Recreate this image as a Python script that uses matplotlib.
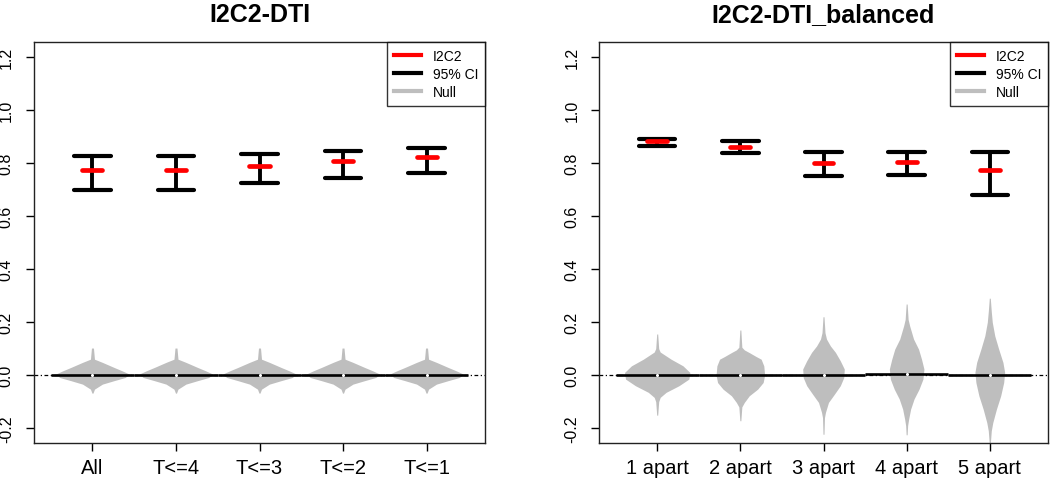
import matplotlib

matplotlib.use("Agg")
import matplotlib.pyplot as plt
from matplotlib.lines import Line2D

plt.rcParams["font.family"] = ["Liberation Sans", "DejaVu Sans"]

# left panel: all subjects / time thresholds
left_title = "I2C2-DTI"
left_labels = ["All", "T<=4", "T<=3", "T<=2", "T<=1"]
left_est = [0.774, 0.774, 0.787, 0.809, 0.821]
left_lo = [0.698, 0.698, 0.725, 0.742, 0.761]
left_hi = [0.826, 0.826, 0.834, 0.846, 0.855]
left_null_med = [0.0, 0.0, 0.0, 0.0, 0.0]

# right panel: balanced design
right_title = "I2C2-DTI_balanced"
right_labels = ["1 apart", "2 apart", "3 apart", "4 apart", "5 apart"]
right_est = [0.884, 0.861, 0.800, 0.804, 0.774]
right_lo = [0.864, 0.836, 0.749, 0.756, 0.679]
right_hi = [0.891, 0.882, 0.842, 0.842, 0.842]
right_null_med = [0.0, 0.0, 0.0, 0.005, 0.0]

# null distribution violin outlines (y, half-width in x units)
null_y_left = [0.102, 0.06, 0.048, 0.029, 0.016, 0.004, -0.009, -0.021, -0.034, -0.053, -0.068]
null_w_left = [0.012, 0.024, 0.119, 0.258, 0.357, 0.44, 0.393, 0.258, 0.119, 0.024, 0.006]

null_y_right = [
    [0.155, 0.10, 0.087, 0.06, 0.035, 0.01, -0.015, -0.04, -0.065, -0.084, -0.10, -0.151],
    [0.17, 0.105, 0.095, 0.085, 0.07, 0.06, 0.035, 0.0, -0.028, -0.053, -0.078, -0.103, -0.12, -0.172],
    [0.22, 0.16, 0.136, 0.11, 0.086, 0.054, 0.023, -0.009, -0.04, -0.072, -0.103, -0.14, -0.16, -0.223],
    [0.268, 0.21, 0.186, 0.136, 0.098, 0.06, 0.023, -0.015, -0.053, -0.09, -0.128, -0.166, -0.19, -0.225],
    [0.29, 0.24, 0.199, 0.148, 0.098, 0.048, 0.01, -0.028, -0.078, -0.128, -0.179, -0.21, -0.26],
]
null_w_right = [
    [0.006, 0.018, 0.036, 0.167, 0.31, 0.393, 0.381, 0.262, 0.107, 0.036, 0.018, 0.006],
    [0.006, 0.018, 0.048, 0.107, 0.19, 0.25, 0.282, 0.292, 0.274, 0.208, 0.107, 0.048, 0.018, 0.006],
    [0.006, 0.018, 0.036, 0.083, 0.143, 0.202, 0.25, 0.244, 0.202, 0.131, 0.06, 0.024, 0.012, 0.006],
    [0.006, 0.018, 0.036, 0.083, 0.143, 0.179, 0.208, 0.196, 0.149, 0.089, 0.048, 0.024, 0.012, 0.006],
    [0.006, 0.018, 0.03, 0.06, 0.107, 0.158, 0.179, 0.167, 0.131, 0.08, 0.036, 0.018, 0.006],
]

yticks = [-0.2, 0.0, 0.2, 0.4, 0.6, 0.8, 1.0, 1.2]
null_gray = "#bebebe"


def draw_panel(ax, title, labels, est, lo, hi, null_med, prof_y, prof_w, ylab_pad):
    xs = list(range(1, len(labels) + 1))

    # dash-dot reference line at zero
    ax.axhline(0, color="black", lw=0.9, ls=(0, (3, 2, 1, 2)), zorder=1)

    for x, py, pw, med in zip(xs, prof_y, prof_w, null_med):
        left = [x - w for w in pw]
        right = [x + w for w in pw]
        ax.fill_betweenx(py, left, right, color=null_gray, lw=0, zorder=2)
        ax.plot([x - 0.5, x + 0.5], [med, med], color="black", lw=1.9, zorder=3,
                solid_capstyle="butt")
        ax.plot([x], [med], marker="o", ms=2.2, color="white", mew=0, zorder=4)

    for x, e, l, h in zip(xs, est, lo, hi):
        ax.plot([x, x], [l, h], color="black", lw=2.8, zorder=5, solid_capstyle="butt")
        ax.plot([x - 0.22, x + 0.22], [l, l], color="black", lw=3.0, zorder=5,
                solid_capstyle="round")
        ax.plot([x - 0.22, x + 0.22], [h, h], color="black", lw=3.0, zorder=5,
                solid_capstyle="round")
        ax.plot([x - 0.12, x + 0.12], [e, e], color="red", lw=3.4, zorder=6,
                solid_capstyle="round")

    ax.set_xlim(0.3, 5.7)
    ax.set_ylim(-0.256, 1.256)
    ax.set_xticks(xs)
    ax.set_xticklabels(labels, fontsize=14.5)
    ax.set_yticks(yticks)
    ax.set_yticklabels([f"{t:.1f}" for t in yticks], fontsize=11.5, rotation=90, va="center")
    ax.tick_params(axis="x", length=6, width=1, pad=5)
    ax.tick_params(axis="y", length=6, width=1, pad=ylab_pad)
    for s in ax.spines.values():
        s.set_linewidth(1.0)
        s.set_color("#222222")
    ax.set_title(title, fontsize=18, fontweight="bold", pad=15)

    handles = [
        Line2D([], [], color="red", lw=3),
        Line2D([], [], color="black", lw=3),
        Line2D([], [], color=null_gray, lw=3),
    ]
    leg = ax.legend(handles, ["I2C2", "95% CI", "Null"], loc="upper right", fontsize=10,
                    frameon=True, fancybox=False, borderaxespad=0, labelspacing=0.3,
                    handlelength=2.0, handletextpad=0.8, borderpad=0.5)
    leg.get_frame().set_edgecolor("black")
    leg.get_frame().set_linewidth(1.0)


fig = plt.figure(figsize=(10.5, 4.81), dpi=100)
ax1 = fig.add_axes([34 / 1050, 1 - 444 / 481, 451 / 1050, 401 / 481])
ax2 = fig.add_axes([599 / 1050, 1 - 444 / 481, 449 / 1050, 401 / 481])

draw_panel(ax1, left_title, left_labels, left_est, left_lo, left_hi, left_null_med,
           [null_y_left] * 5, [null_w_left] * 5, 8.5)
draw_panel(ax2, right_title, right_labels, right_est, right_lo, right_hi, right_null_med,
           null_y_right, null_w_right, 8)

fig.savefig("out.png", dpi=100)
